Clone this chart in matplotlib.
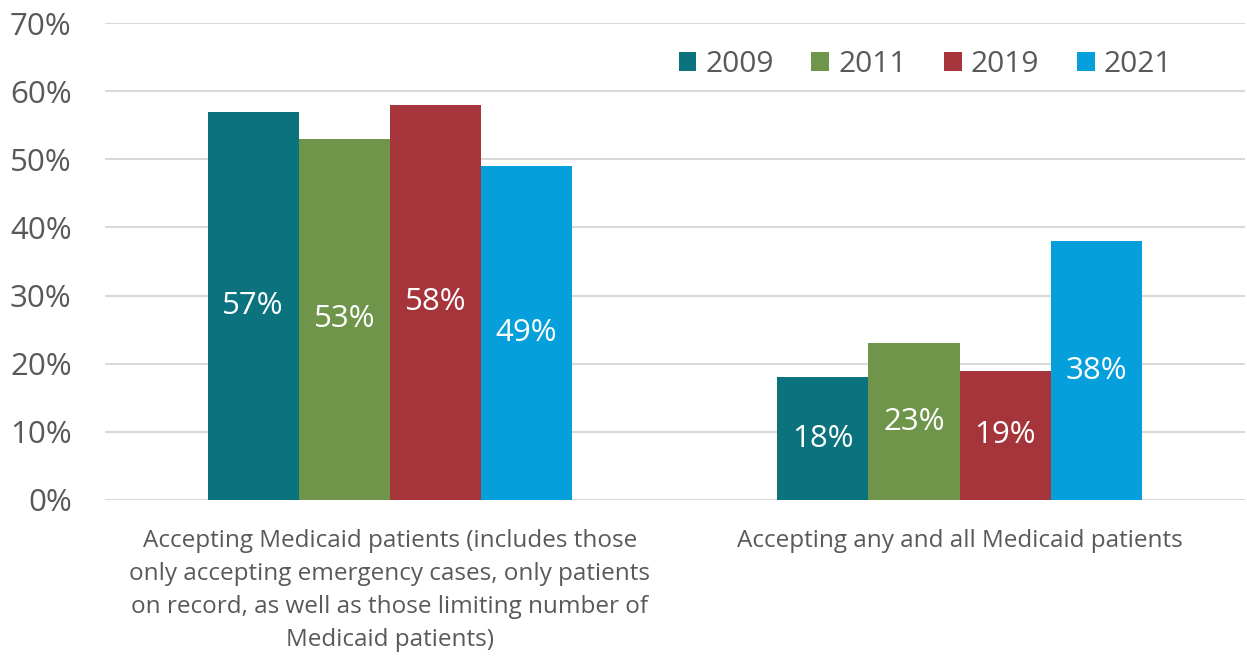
import numpy as np
import matplotlib.pyplot as plt
from matplotlib.ticker import PercentFormatter

plt.rcParams['font.family'] = ['Open Sans', 'DejaVu Sans']

categories = ['Accepting Medicaid patients (includes those\nonly accepting emergency cases, only patients\non record, as well as those limiting number of\nMedicaid patients)',
              'Accepting any and all Medicaid patients']
years = ['2009', '2011', '2019', '2021']
v2009 = [57, 18]
v2011 = [53, 23]
v2019 = [58, 19]
v2021 = [49, 38]
colors = ['#0A737E', '#6E9549', '#A6343B', '#05A0DB']

series = [v2009, v2011, v2019, v2021]
grey = '#595959'

fig = plt.figure(figsize=(12.47, 6.61), dpi=100)
ax = fig.add_axes([0.0842, 0.2436, 0.9138, 0.7214])

x = np.arange(len(categories))
w = 0.16
for k in range(len(years)):
    pos = x + (k - 1.5) * w
    bars = ax.bar(pos, series[k], width=w, color=colors[k], label=years[k], zorder=3)
    for b, v in zip(bars, series[k]):
        ax.text(b.get_x() + b.get_width() / 2, v / 2, '%d%%' % v,
                ha='center', va='center', color='white', fontsize=22.5, zorder=4)

ax.set_xlim(-0.5, 1.5)
ax.set_ylim(0, 70)
ax.set_yticks(np.arange(0, 71, 10))
ax.yaxis.set_major_formatter(PercentFormatter(decimals=0))
ax.set_xticks(x)
ax.set_xticklabels(categories, fontsize=17.5, color=grey, linespacing=1.5)
ax.tick_params(axis='y', labelsize=22.5, labelcolor=grey, length=0, pad=24)
ax.tick_params(axis='x', length=0, pad=21)
ax.grid(axis='y', color='#D9D9D9', linewidth=1.5, zorder=0)
for s in ax.spines.values():
    s.set_visible(False)

ax.legend(loc='upper right', bbox_to_anchor=(0.96, 1.0), ncol=4, frameon=False,
          fontsize=21.5, labelcolor=grey, handlelength=0.6, handleheight=0.6,
          handletextpad=0.3, columnspacing=1.25)

fig.savefig('out.png', dpi=100)
